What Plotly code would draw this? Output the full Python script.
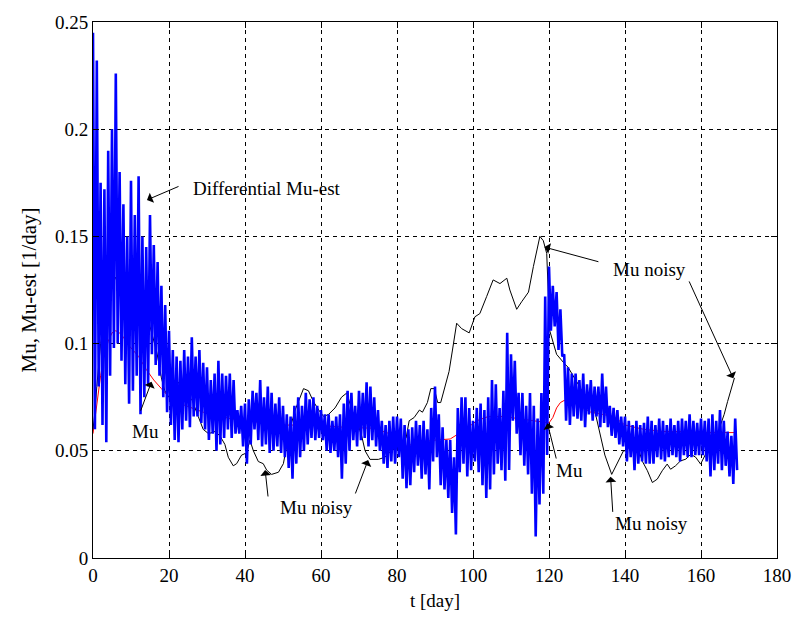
import plotly.graph_objects as go

# ---------------- data ----------------
x_ticks = [0, 20, 40, 60, 80, 100, 120, 140, 160, 180]
y_ticks = [0, 0.05, 0.1, 0.15, 0.2, 0.25]
y_tick_text = ["0", "0.05", "0.1", "0.15", "0.2", "0.25"]

# Mu (red, smooth)
mu_t = [0, 1, 2, 3, 4, 5, 6, 7, 8, 9,
        10, 12, 14, 16, 18, 20, 23, 26, 29, 32,
        36, 40, 45, 50, 58, 66, 74, 78, 82, 86,
        90, 94, 98, 101, 104, 108, 112, 116, 120, 121,
        122, 123, 124, 125, 127, 129, 131, 134, 137, 140,
        145, 150, 155, 160, 165, 168.7]
mu_v = [0.058, 0.072, 0.085, 0.095, 0.101, 0.105, 0.106, 0.105, 0.103, 0.100,
        0.098, 0.094, 0.088, 0.083, 0.079, 0.075, 0.072, 0.070, 0.068, 0.067,
        0.065, 0.064, 0.063, 0.062, 0.062, 0.061, 0.0605, 0.058, 0.052, 0.054,
        0.055, 0.0555, 0.060, 0.064, 0.066, 0.066, 0.065, 0.064, 0.063, 0.0655,
        0.070, 0.0725, 0.0735, 0.0735, 0.072, 0.070, 0.068, 0.067, 0.066, 0.062,
        0.060, 0.059, 0.059, 0.0585, 0.0585, 0.0585]

# Mu noisy (black)
noisy_t = [0, 0.5, 1, 1.5, 2, 3, 4, 5, 6, 8,
           10, 12.4, 13.5, 15, 16.8, 18, 18.9, 20, 20.7, 22.5,
           24.2, 26, 27.7, 29, 30.4, 32.1, 33.4, 34.7, 35.6, 36.9,
           37.8, 39.1, 40.4, 41.3, 42.2, 43.5, 44.8, 45.7, 47, 48.8,
           50.1, 51.8, 53.2, 54.5, 55.4, 56.7, 58, 59.4, 60.7, 62,
           63.7, 65.4, 66.8, 68.1, 69.4, 70.7, 71.6, 72.9, 75.1, 76.8,
           78.5, 80.5, 82.4, 83.2, 84.5, 85.9, 86.7, 88, 88.9, 89.8,
           90.7, 91.5, 92.8, 93.7, 94.6, 95.3, 95.7, 97, 99, 100.5,
           101.8, 103.6, 105.3, 107.1, 108.9, 109.7, 111.5, 112.8, 114.6, 115.9,
           117.6, 118.5, 119.4, 120.2, 122, 124.1, 125, 127.7, 130.3, 132,
           133.4, 134.7, 136.5, 137.4, 138.2, 139.6, 140.2, 142.8, 144.6, 145.9,
           147.2, 148.5, 149.8, 151.1, 152, 153.3, 154.6, 156, 157.3, 158.6,
           159.9, 161.2, 163, 164.3, 165.2, 166.1, 167, 168.2, 168.8]
noisy_v = [0.060, 0.068, 0.080, 0.092, 0.100, 0.110, 0.120, 0.127, 0.131, 0.127,
           0.130, 0.129, 0.120, 0.108, 0.096, 0.084, 0.078, 0.075, 0.078, 0.082,
           0.075, 0.074, 0.066, 0.060, 0.058, 0.059, 0.057, 0.053, 0.047, 0.043,
           0.044, 0.048, 0.049, 0.055, 0.050, 0.045, 0.044, 0.041, 0.039, 0.040,
           0.044, 0.060, 0.069, 0.075, 0.079, 0.078, 0.073, 0.069, 0.066, 0.067,
           0.070, 0.075, 0.077, 0.069, 0.064, 0.057, 0.050, 0.046, 0.046, 0.047,
           0.050, 0.052, 0.056, 0.064, 0.0655, 0.069, 0.068, 0.0725, 0.079, 0.079,
           0.0725, 0.0725, 0.081, 0.087, 0.097, 0.105, 0.1095, 0.107, 0.105, 0.1125,
           0.114, 0.122, 0.1297, 0.128, 0.1305, 0.125, 0.116, 0.1195, 0.124, 0.136,
           0.150, 0.148, 0.142, 0.106, 0.095, 0.0906, 0.089, 0.081, 0.073, 0.069,
           0.058, 0.048, 0.039, 0.042, 0.045, 0.050, 0.050, 0.0547, 0.045, 0.0407,
           0.0352, 0.0368, 0.0407, 0.0438, 0.0414, 0.043, 0.0453, 0.0461, 0.0484, 0.047,
           0.0438, 0.0484, 0.0516, 0.056, 0.0624, 0.067, 0.073, 0.080, 0.084]

# Differential Mu-est (blue): per-day high and low excursions (day 0..169)
est_hi = [0.245, 0.232, 0.175, 0.172, 0.190, 0.200, 0.226, 0.180, 0.165, 0.150,
          0.176, 0.160, 0.178, 0.150, 0.145, 0.160, 0.146, 0.138, 0.127, 0.118,
          0.106, 0.097, 0.094, 0.092, 0.097, 0.094, 0.103, 0.094, 0.097, 0.091,
          0.089, 0.083, 0.086, 0.092, 0.086, 0.085, 0.086, 0.083, 0.069, 0.071,
          0.072, 0.074, 0.078, 0.077, 0.083, 0.075, 0.080, 0.077, 0.072, 0.075,
          0.071, 0.067, 0.066, 0.071, 0.075, 0.071, 0.077, 0.074, 0.075, 0.071,
          0.069, 0.067, 0.067, 0.064, 0.066, 0.067, 0.072, 0.078, 0.077, 0.071,
          0.078, 0.077, 0.082, 0.080, 0.075, 0.069, 0.064, 0.062, 0.064, 0.066,
          0.066, 0.065, 0.062, 0.060, 0.061, 0.064, 0.062, 0.064, 0.060, 0.070,
          0.080, 0.067, 0.061, 0.055, 0.055, 0.047, 0.070, 0.075, 0.075, 0.070,
          0.064, 0.070, 0.072, 0.069, 0.075, 0.083, 0.081, 0.070, 0.078, 0.105,
          0.095, 0.092, 0.077, 0.077, 0.071, 0.077, 0.071, 0.065, 0.077, 0.122,
          0.136, 0.127, 0.124, 0.116, 0.095, 0.089, 0.086, 0.086, 0.083, 0.086,
          0.081, 0.083, 0.080, 0.080, 0.086, 0.080, 0.071, 0.070, 0.069, 0.066,
          0.066, 0.064, 0.062, 0.064, 0.062, 0.063, 0.066, 0.064, 0.062, 0.065,
          0.064, 0.062, 0.065, 0.062, 0.064, 0.065, 0.064, 0.067, 0.064, 0.063,
          0.065, 0.064, 0.065, 0.067, 0.064, 0.069, 0.064, 0.059, 0.057, 0.065]
est_lo = [0.060, 0.080, 0.062, 0.054, 0.085, 0.098, 0.100, 0.092, 0.081, 0.072,
          0.078, 0.085, 0.067, 0.075, 0.080, 0.095, 0.090, 0.085, 0.075, 0.068,
          0.062, 0.055, 0.054, 0.060, 0.064, 0.061, 0.066, 0.066, 0.063, 0.060,
          0.055, 0.058, 0.050, 0.053, 0.056, 0.060, 0.056, 0.058, 0.058, 0.052,
          0.044, 0.053, 0.060, 0.055, 0.052, 0.053, 0.049, 0.050, 0.052, 0.049,
          0.047, 0.042, 0.037, 0.044, 0.047, 0.050, 0.053, 0.056, 0.055, 0.056,
          0.055, 0.050, 0.049, 0.050, 0.047, 0.037, 0.044, 0.050, 0.055, 0.052,
          0.055, 0.056, 0.052, 0.055, 0.052, 0.050, 0.044, 0.042, 0.045, 0.044,
          0.047, 0.037, 0.0325, 0.034, 0.040, 0.043, 0.037, 0.039, 0.032, 0.045,
          0.047, 0.034, 0.032, 0.028, 0.021, 0.011, 0.040, 0.044, 0.038, 0.041,
          0.045, 0.040, 0.034, 0.028, 0.032, 0.039, 0.044, 0.041, 0.036, 0.041,
          0.064, 0.058, 0.048, 0.043, 0.039, 0.030, 0.010, 0.025, 0.030, 0.048,
          0.106, 0.108, 0.097, 0.094, 0.064, 0.062, 0.066, 0.065, 0.064, 0.061,
          0.067, 0.064, 0.066, 0.061, 0.063, 0.061, 0.057, 0.056, 0.053, 0.052,
          0.045, 0.047, 0.041, 0.044, 0.045, 0.044, 0.044, 0.044, 0.047, 0.046,
          0.045, 0.047, 0.048, 0.047, 0.045, 0.048, 0.047, 0.047, 0.048, 0.048,
          0.048, 0.045, 0.038, 0.041, 0.044, 0.041, 0.043, 0.038, 0.0345, 0.041]

# ---------------- build blue series (high at day d, low at day d+0.5) ----------------
est_t, est_v = [], []
for d, (hi, lo) in enumerate(zip(est_hi, est_lo)):
    est_t += [d, d + 0.5]
    est_v += [hi, lo]

FONT = "Liberation Serif, Times New Roman, serif"

fig = go.Figure()
fig.add_trace(go.Scatter(x=mu_t, y=mu_v, mode="lines",
                         line=dict(color="#ff0000", width=1), name="Mu"))
fig.add_trace(go.Scatter(x=noisy_t, y=noisy_v, mode="lines",
                         line=dict(color="#000000", width=1), name="Mu noisy"))
fig.add_trace(go.Scatter(x=est_t, y=est_v, mode="lines",
                         line=dict(color="#0000ff", width=2.6), name="Differential Mu-est"))

# ---------------- annotations ----------------
labels = [
    ("Differential Mu-est", 45.8, 0.1725),
    ("Mu", 13.8, 0.059),
    ("Mu noisy", 58.8, 0.0235),
    ("Mu noisy", 146.5, 0.1345),
    ("Mu", 125.5, 0.0410),
    ("Mu noisy", 147.0, 0.0160),
]
for txt, x, y in labels:
    fig.add_annotation(x=x, y=y, text=txt, showarrow=False, xanchor="center",
                       yanchor="middle", font=dict(family=FONT, size=19, color="black"))

# arrows: (tail_t, tail_v, tip_t, tip_v)
arrows = [
    (22.9, 0.1736, 14.2, 0.167),
    (12.4, 0.068, 15.4, 0.0822),
    (46.1, 0.028, 45.3, 0.041),
    (68.9, 0.0294, 72.4, 0.0457),
    (133.4, 0.138, 118.8, 0.145),
    (156.7, 0.1297, 168.5, 0.0838),
    (122.0, 0.0457, 119.6, 0.0628),
    (136.8, 0.0208, 136.2, 0.0379),
]
for ax_, ay_, x, y in arrows:
    fig.add_annotation(x=x, y=y, ax=ax_, ay=ay_, axref="x", ayref="y",
                       xref="x", yref="y", text="", showarrow=True,
                       arrowhead=1, arrowsize=1.8, arrowwidth=1,
                       arrowcolor="black", standoff=0, startstandoff=0)

axis_common = dict(
    showline=True, linecolor="black", linewidth=1, mirror="ticks",
    ticks="inside", ticklen=6, tickcolor="black", tickwidth=1,
    showgrid=True, gridcolor="black", gridwidth=1, griddash="4px,4px",
    zeroline=False, automargin=False,
    tickfont=dict(family=FONT, size=19, color="black"),
)

fig.update_xaxes(range=[0, 180], tickvals=x_ticks,
                 title=dict(text="t [day]", font=dict(family=FONT, size=19, color="black"),
                            standoff=8),
                 **axis_common)
fig.update_yaxes(range=[0, 0.25], tickvals=y_ticks, ticktext=y_tick_text,
                 title=dict(text="Mu, Mu-est [1/day]",
                            font=dict(family=FONT, size=21, color="black"), standoff=12),
                 **axis_common)

fig.update_layout(
    width=794, height=622,
    margin=dict(l=93, r=17, t=22, b=64),
    paper_bgcolor="white", plot_bgcolor="white",
    showlegend=False,
    font=dict(family=FONT, color="black"),
)

fig.write_html("out.html")
